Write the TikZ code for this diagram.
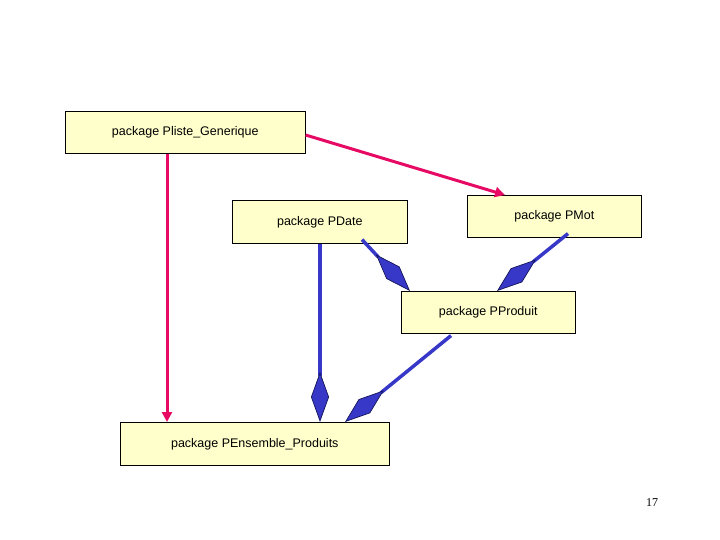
\documentclass[tikz,border=0pt]{standalone}
\usepackage{fontspec}
\setmainfont{Liberation Sans}
\newfontfamily\pagefont{Liberation Serif}
\usetikzlibrary{arrows.meta,positioning}
\definecolor{boxfill}{RGB}{255,255,204}
\definecolor{pinkred}{RGB}{230,10,100}
\definecolor{linkblue}{RGB}{55,55,200}
\definecolor{darkblue}{RGB}{20,20,90}
\begin{document}
\begin{tikzpicture}[x=1pt,y=-1pt,
  pkg/.style={draw,fill=boxfill,anchor=north west,align=left,inner xsep=14pt,
    font=\fontsize{12.5}{15}\selectfont,line width=0.6pt},
  uses/.style={pinkred,line width=3pt,-{Triangle[length=10pt,width=10pt]}},
  owns/.style={linkblue,line width=3.5pt,
    -{Kite[length=50pt,width=18pt,inset=25pt,line width=0.7pt,fill=linkblue,color=darkblue]}}]
\useasboundingbox (0,0) rectangle (720,540);
% packages
\node[pkg,minimum width=240pt,minimum height=42pt] (liste) at (65,111) {package Pliste\_Generique};
\node[pkg,minimum width=175pt,minimum height=43pt] (date) at (232,200) {package PDate};
\node[pkg,minimum width=174pt,minimum height=42pt] (mot) at (467,195) {package PMot};
\node[pkg,minimum width=174pt,minimum height=42pt] (produit) at (401,291) {package PProduit};
\node[pkg,minimum width=269pt,minimum height=43pt] (ensemble) at (120,422) {package PEnsemble\_Produits};
\node[font=\pagefont\fontsize{12}{14}\selectfont,anchor=center] (num) at (652,503) {17};
% links
\draw[uses] (liste.south west -| 167,0) -- (ensemble.north west -| 167,0);
\draw[uses] (liste.north east |- 0,135) -- (mot.north west -| 505,0);
\draw[owns] (date.south west -| 320,0) -- (ensemble.north west -| 320,0);
\draw[owns] (date.south west -| 362,0) ++(0,-4) -- (produit.north west -| 410,0);
\draw[owns] (mot.south west -| 568,0) ++(0,-4) -- (produit.north west -| 497,0);
\draw[owns] (produit.south west -| 451,0) ++(0,2) -- (ensemble.north west -| 345,0);
\end{tikzpicture}
\end{document}
